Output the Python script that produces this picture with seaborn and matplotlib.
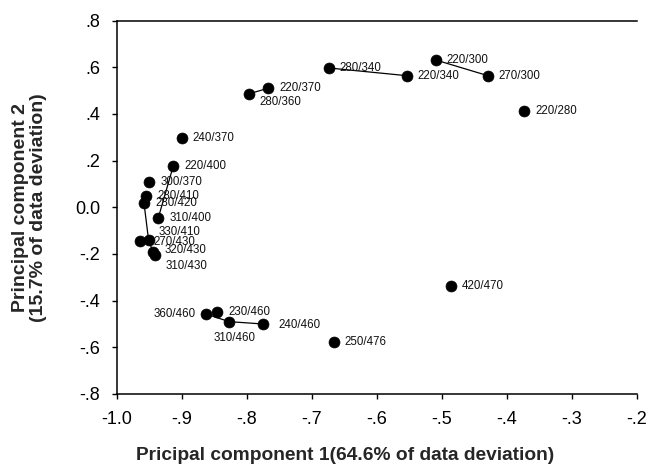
import matplotlib
matplotlib.use("Agg")
import matplotlib.pyplot as plt
import seaborn as sns
import pandas as pd

labels = ["220/300", "270/300", "220/340", "280/340", "220/370", "280/360",
          "220/280", "240/370", "220/400", "300/370", "280/410", "280/420",
          "310/400", "330/410", "270/430", "320/430", "310/430",
          "360/460", "230/460", "310/460", "240/460", "250/476", "420/470"]
pc1 = [-0.509, -0.429, -0.554, -0.674, -0.767, -0.797,
       -0.373, -0.900, -0.913, -0.950, -0.955, -0.958,
       -0.936, -0.951, -0.964, -0.944, -0.941,
       -0.863, -0.845, -0.827, -0.775, -0.666, -0.486]
pc2 = [0.631, 0.564, 0.564, 0.597, 0.510, 0.486,
       0.413, 0.296, 0.177, 0.110, 0.050, 0.017,
       -0.045, -0.140, -0.144, -0.193, -0.204,
       -0.457, -0.447, -0.490, -0.500, -0.577, -0.336]

# connected groups (by label)
groups = [["220/300", "270/300"],
          ["280/340", "220/340"],
          ["280/360", "220/370"],
          ["220/400", "310/400"],
          ["280/420", "330/410", "320/430", "310/430"],
          ["360/460", "310/460", "240/460"]]

x_ticks = [-1.0, -0.9, -0.8, -0.7, -0.6, -0.5, -0.4, -0.3, -0.2]
x_ticklabels = ["-1.0", "-.9", "-.8", "-.7", "-.6", "-.5", "-.4", "-.3", "-.2"]
y_ticks = [-0.8, -0.6, -0.4, -0.2, 0.0, 0.2, 0.4, 0.6, 0.8]
y_ticklabels = ["-.8", "-.6", "-.4", "-.2", "0.0", ".2", ".4", ".6", ".8"]

# label placement offsets in pixels (dx, dy up), and alignment
label_offsets = {
    "280/360": (11, -8, "left"),
    "330/410": (10, 8, "left"),
    "270/430": (13, -1, "left"),
    "320/430": (11, 2, "left"),
    "310/430": (10, -11, "left"),
    "360/460": (-10, 0, "right"),
    "310/460": (5, -16, "center"),
    "240/460": (15, -1, "left"),
}

sns.set_theme(style="ticks")
plt.rcParams["font.family"] = ["Liberation Sans", "DejaVu Sans"]

df = pd.DataFrame({"label": labels, "pc1": pc1, "pc2": pc2})
pos = {l: (x, y) for l, x, y in zip(labels, pc1, pc2)}

fig = plt.figure(figsize=(6.51, 4.71), dpi=100)
ax = fig.add_axes([0.1793, 0.1635, 0.7987, 0.7928])

rows = []
for gi, g in enumerate(groups):
    for l in g:
        rows.append({"g": gi, "pc1": pos[l][0], "pc2": pos[l][1]})
ldf = pd.DataFrame(rows)
sns.lineplot(data=ldf, x="pc1", y="pc2", units="g", estimator=None, sort=False,
             color="black", linewidth=0.9, ax=ax, legend=False)

sns.scatterplot(data=df, x="pc1", y="pc2", color="black", s=62,
                edgecolor="black", linewidth=0.5, ax=ax, zorder=3, legend=False)

px2pt = 0.72
for l, x, y in zip(labels, pc1, pc2):
    dx, dy, ha = label_offsets.get(l, (11, 0, "left"))
    ax.annotate(l, (x, y), xytext=(dx * px2pt, dy * px2pt), textcoords="offset points",
                ha=ha, va="center", fontsize=8.3, color="#111111")

ax.set_xlim(-1.0, -0.2)
ax.set_ylim(-0.8, 0.8)
ax.set_xticks(x_ticks)
ax.set_xticklabels(x_ticklabels)
ax.set_yticks(y_ticks)
ax.set_yticklabels(y_ticklabels)
ax.tick_params(direction="out", length=3.6, width=1.0, labelsize=13, pad=8.5,
               colors="black")
for s in ["left", "bottom", "top"]:
    ax.spines[s].set_linewidth(1.1)
    ax.spines[s].set_color("black")
ax.spines["right"].set_visible(False)

ax.set_xlabel("Pricipal component 1(64.6% of data deviation)", fontsize=13.8,
              fontweight="bold", labelpad=15)
ax.xaxis.set_label_coords(0.44, -0.142)
ax.set_ylabel("Principal component 2\n(15.7% of data deviation)", fontsize=14,
              fontweight="bold", labelpad=20, linespacing=1.05)

fig.savefig("out.png", dpi=100)
